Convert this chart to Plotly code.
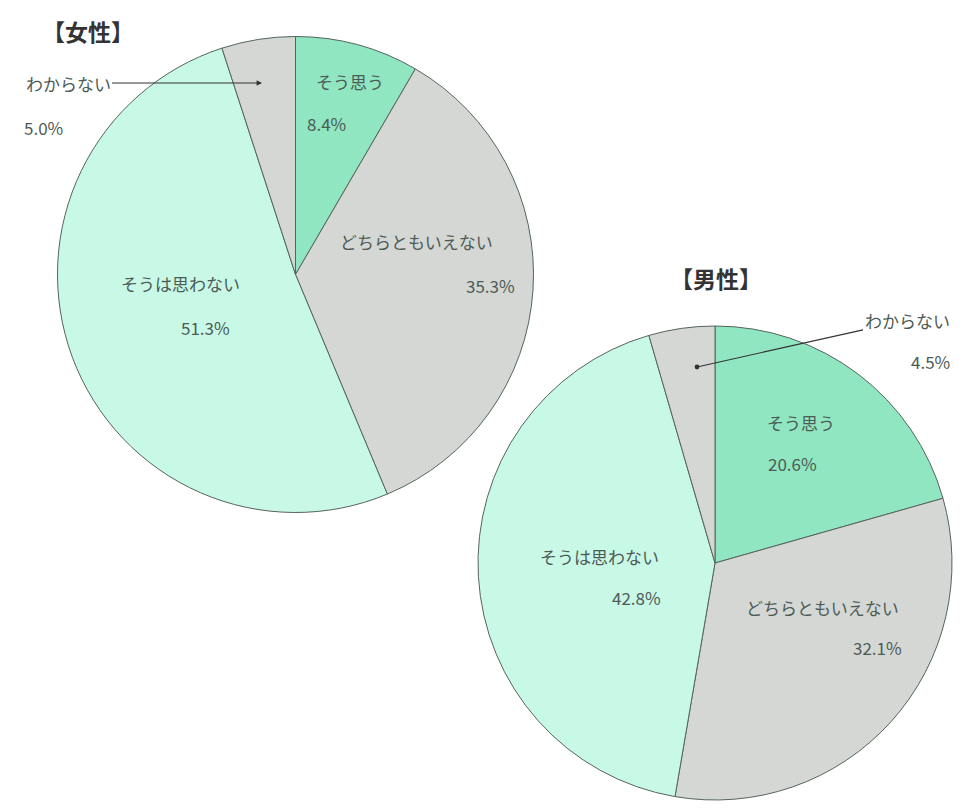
import plotly.graph_objects as go

# ---- data ----
categories = ["そう思う", "どちらともいえない", "そうは思わない", "わからない"]
female_values = [8.4, 35.3, 51.3, 5.0]
male_values = [20.6, 32.1, 42.8, 4.5]
titles = ["【女性】", "【男性】"]

# ---- style ----
colors = ["#8fe6c0", "#d4d7d4", "#c8f8e6", "#d4d7d4"]
line_color = "#55645d"
text_color = "#4d5b56"
FONT = "Noto Sans CJK JP"
W, H = 970, 810


def px(x, y):
    return x / W, 1 - y / H


fig = go.Figure()
fig.add_trace(go.Pie(
    labels=categories, values=female_values, sort=False, direction="clockwise",
    rotation=0, marker=dict(colors=colors, line=dict(color=line_color, width=1)),
    textinfo="none", hoverinfo="label+percent", showlegend=False,
    domain=dict(x=[57.5 / W, 533.5 / W], y=[1 - 512.5 / H, 1 - 36.5 / H]),
))
fig.add_trace(go.Pie(
    labels=categories, values=male_values, sort=False, direction="clockwise",
    rotation=0, marker=dict(colors=colors, line=dict(color=line_color, width=1)),
    textinfo="none", hoverinfo="label+percent", showlegend=False,
    domain=dict(x=[478 / W, 952 / W], y=[1 - 800 / H, 1 - 326 / H]),
))

annotations = []


def txt(s, x, y, size=17, color=text_color, bold=False):
    xx, yy = px(x, y)
    annotations.append(dict(
        text=f"<b>{s}</b>" if bold else s, x=xx, y=yy, xref="paper", yref="paper",
        showarrow=False, xanchor="center", yanchor="middle",
        font=dict(family=FONT, size=size, color=color)))


def pct(v):
    return f"{v:.1f}%"


def arrow_label(s, head, tail, head_style, size):
    hx, hy = px(*head)
    annotations.append(dict(
        text=s, x=hx, y=hy, ax=tail[0] - head[0], ay=tail[1] - head[1],
        xref="paper", yref="paper", axref="pixel", ayref="pixel",
        showarrow=True, arrowhead=head_style, arrowsize=size,
        arrowwidth=1.2, arrowcolor="#333333",
        font=dict(family=FONT, size=17, color=text_color)))


# titles
txt(titles[0], 88, 31, size=23, color="#333333", bold=True)
txt(titles[1], 716, 278, size=23, color="#333333", bold=True)

# female labels
txt(categories[0], 350, 82)
txt(pct(female_values[0]), 326, 123, size=17)
txt(categories[1], 416, 242)
txt(pct(female_values[1]), 490, 285, size=17)
txt(categories[2], 180, 283)
txt(pct(female_values[2]), 205, 327, size=17)
txt(pct(female_values[3]), 43, 128, size=17)
arrow_label(categories[3], (262, 83), (68, 83), 2, 0.9)

# male labels
txt(categories[0], 801, 422)
txt(pct(male_values[0]), 792, 463, size=17)
txt(categories[1], 822, 607)
txt(pct(male_values[1]), 877, 647, size=17)
txt(categories[2], 599, 556)
txt(pct(male_values[2]), 636, 597, size=17)
txt(pct(male_values[3]), 930, 362, size=17)
arrow_label(categories[3], (697, 367), (907, 320), 6, 1.0)

fig.update_layout(
    width=W, height=H, margin=dict(l=0, r=0, t=0, b=0),
    paper_bgcolor="white", plot_bgcolor="white",
    annotations=annotations,
)

fig.write_html("out.html")
